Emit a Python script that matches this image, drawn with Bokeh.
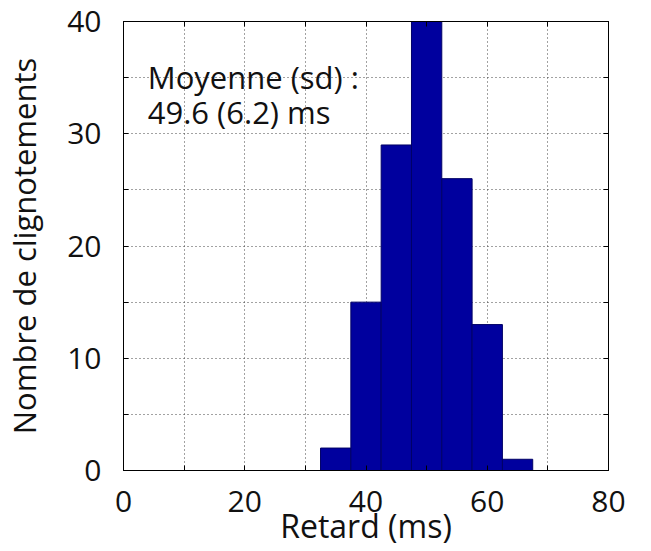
from bokeh.plotting import figure
from bokeh.models import (Range1d, LinearAxis, Label, FixedTicker,
                          ColumnDataSource, CustomLabelingPolicy)
from bokeh.embed import file_html
from bokeh.resources import INLINE

# Data
bin_centers = [35, 40, 45, 50, 55, 60, 65]
counts = [2, 15, 29, 40, 26, 13, 1]
bin_width = 5
x_ticks = [0, 20, 40, 60, 80]
x_minor = [10, 30, 50, 70]
y_ticks = [0, 10, 20, 30, 40]
y_minor = [5, 15, 25, 35]
annot_lines = ["Moyenne (sd) :", "49.6 (6.2) ms"]
x_label = "Retard (ms)"
y_label = "Nombre de clignotements"

FONT = "Open Sans"
TXT = "#111111"

p = figure(frame_width=485, frame_height=449,
           x_range=Range1d(0, 80), y_range=Range1d(0, 40),
           output_backend="svg", toolbar_location=None,
           min_border_left=123, min_border_right=43,
           min_border_top=21, min_border_bottom=81)

src = ColumnDataSource(dict(x=bin_centers, top=counts))
p.vbar(x="x", top="top", bottom=0, width=bin_width, source=src,
       fill_color="#00009e", line_color="#000066", line_width=1)

xt = FixedTicker(ticks=x_ticks, minor_ticks=x_minor)
yt = FixedTicker(ticks=y_ticks, minor_ticks=y_minor)

def style_axis(ax, labels=True):
    ax.major_tick_in = 5
    ax.major_tick_out = 0
    ax.minor_tick_in = 5
    ax.minor_tick_out = 0
    ax.axis_line_color = "black"
    ax.major_tick_line_color = "black"
    ax.minor_tick_line_color = "black"
    if labels:
        ax.major_label_text_font = FONT
        ax.major_label_text_font_size = "30px"
        ax.major_label_text_color = TXT
        ax.axis_label_text_font = FONT
        ax.axis_label_text_font_size = "32px"
        ax.axis_label_text_font_style = "normal"
        ax.axis_label_text_color = TXT
    else:
        ax.major_label_policy = CustomLabelingPolicy(code="return new Set()")
        ax.major_label_standoff = 0

p.xaxis.ticker = xt
p.yaxis.ticker = yt
style_axis(p.xaxis[0])
style_axis(p.yaxis[0])
p.xaxis.axis_label = x_label
p.yaxis.axis_label = y_label
p.yaxis.axis_label_text_font_size = "31px"
p.xaxis.major_label_standoff = 20
p.xaxis.axis_label_standoff = -11
p.yaxis.major_label_standoff = 22
p.yaxis.axis_label_standoff = 19

top_ax = LinearAxis(ticker=xt)
style_axis(top_ax, labels=False)
p.add_layout(top_ax, "above")
right_ax = LinearAxis(ticker=yt)
style_axis(right_ax, labels=False)
p.add_layout(right_ax, "right")

for g, t in ((p.xgrid[0], xt), (p.ygrid[0], yt)):
    g.ticker = t
    g.grid_line_color = "#444444"
    g.grid_line_dash = "1 3"
    g.grid_line_width = 1
    g.minor_grid_line_color = "#444444"
    g.minor_grid_line_dash = "1 3"
    g.minor_grid_line_width = 1

p.outline_line_color = "black"
p.outline_line_width = 1
p.background_fill_color = "white"
p.border_fill_color = "white"

for txt, yy in zip(annot_lines, [35.1, 31.9]):
    p.add_layout(Label(x=4.0, y=yy, text=txt, text_font=FONT,
                       text_font_size="31px", text_color=TXT,
                       text_baseline="alphabetic", text_align="left"))

open("out.html", "w").write(file_html(p, INLINE))
